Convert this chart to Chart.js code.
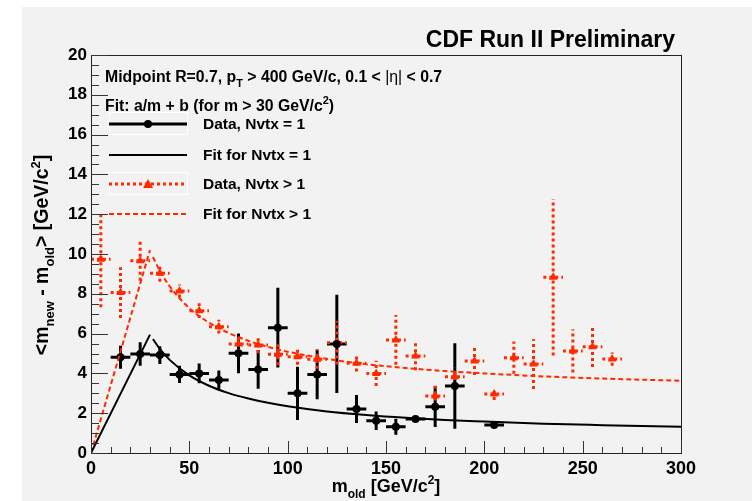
<!DOCTYPE html>
<html>
<head>
<meta charset="utf-8">
<script src="https://cdn.jsdelivr.net/npm/chart.js@4.4.1/dist/chart.umd.min.js"></script>
<style>
  body { margin: 0; background: #fff; }
  canvas { display: block; }
</style>
</head>
<body>
<canvas id="massChart" width="752" height="501"></canvas>
<script>
// === Data ===
const blackX = [15, 25, 35, 45, 55, 65, 75, 85, 95, 105, 115, 125, 135, 145, 155, 165, 175, 185, 205];
const blackY = [4.81, 4.97, 4.92, 3.95, 4.0, 3.67, 5.01, 4.2, 6.3, 3.0, 3.95, 5.48, 2.21, 1.62, 1.32, 1.71, 2.33, 3.37, 1.41];
const blackErr = [0.58, 0.59, 0.45, 0.43, 0.5, 0.47, 1.0, 0.97, 2.0, 1.34, 1.25, 2.47, 0.7, 0.46, 0.4, 0.15, 1.02, 2.15, 0.15];

const redX = [5, 15, 25, 35, 45, 55, 65, 75, 85, 95, 105, 115, 125, 135, 145, 155, 165, 175, 185, 195, 205, 215, 225, 235, 245, 255, 265];
const redY = [9.73, 8.06, 9.66, 9.03, 8.14, 7.15, 6.35, 5.48, 5.43, 4.96, 4.84, 4.71, 5.54, 4.51, 4.0, 5.68, 4.87, 2.86, 3.83, 4.62, 2.96, 4.79, 4.47, 8.83, 5.13, 5.34, 4.72];
const redErr = [2.4, 1.28, 1.0, 0.42, 0.33, 0.37, 0.35, 0.42, 0.42, 0.55, 0.4, 0.48, 1.09, 0.42, 0.63, 1.25, 0.71, 0.52, 0.46, 0.7, 0.3, 0.81, 1.25, 3.93, 1.09, 1.02, 0.33];
const binHalfWidth = 5;

// fit curves (rising part below 30 GeV, a/m + b above)
const riseX = [0, 30];
const blackRiseY = [0, 5.95];
const redRiseY = [0, 10.2];
const tailX = [31.5, 35, 40, 50, 60, 70, 80, 90, 100, 120, 140, 160, 180, 200, 230, 260, 300];
const blackTailY = [5.72, 5.23, 4.68, 3.9, 3.38, 3.01, 2.74, 2.52, 2.35, 2.09, 1.91, 1.77, 1.66, 1.58, 1.47, 1.40, 1.32];
const redTailY = [9.85, 9.16, 8.38, 7.28, 6.55, 6.03, 5.64, 5.33, 5.09, 4.73, 4.46, 4.27, 4.12, 4.0, 3.85, 3.74, 3.63];

const xTicks = [0, 50, 100, 150, 200, 250, 300];
const yTicks = [0, 2, 4, 6, 8, 10, 12, 14, 16, 18, 20];

const RED = '#ff2a00';
const FONT = '"Liberation Sans", Arial, Helvetica, sans-serif';

const toPoints = (xs, ys) => xs.map((x, i) => ({ x: x, y: ys[i] }));

// === Rich text helper (sub / superscripts) ===
function drawRich(ctx, parts, x, y, size, align) {
  const measure = p => {
    const s = p.sub || p.sup ? Math.round(size * 0.68) : size;
    ctx.font = (p.normal ? '' : 'bold ') + s + 'px ' + FONT;
    return ctx.measureText(p.t).width;
  };
  const total = parts.reduce((w, p) => w + measure(p), 0);
  let cx = align === 'center' ? x - total / 2 : align === 'right' ? x - total : x;
  ctx.textAlign = 'left';
  ctx.textBaseline = 'alphabetic';
  parts.forEach(p => {
    const w = measure(p);
    let dy = 0;
    if (p.sub) dy = size * 0.32;
    if (p.sup) dy = -size * 0.42;
    ctx.fillText(p.t, cx, y + dy);
    cx += w;
  });
}

// === Plugin: background, error bars, frame, ticks, texts, legend ===
const rootStyle = {
  id: 'rootStyle',
  beforeDraw(chart) {
    const ctx = chart.ctx;
    ctx.save();
    ctx.fillStyle = '#f2f2f2';
    ctx.fillRect(22, 7, chart.width - 22, chart.height - 7);
    ctx.restore();
  },
  beforeDatasetsDraw(chart) {
    const ctx = chart.ctx;
    const xs = chart.scales.x, ys = chart.scales.y;
    ctx.save();
    // black error bars
    ctx.strokeStyle = '#000';
    ctx.lineWidth = 3;
    blackX.forEach((x, i) => {
      const px = xs.getPixelForValue(x), py = ys.getPixelForValue(blackY[i]);
      ctx.beginPath();
      ctx.moveTo(xs.getPixelForValue(x - binHalfWidth), py);
      ctx.lineTo(xs.getPixelForValue(x + binHalfWidth), py);
      ctx.moveTo(px, ys.getPixelForValue(blackY[i] - blackErr[i]));
      ctx.lineTo(px, ys.getPixelForValue(blackY[i] + blackErr[i]));
      ctx.stroke();
    });
    // red error bars (dotted)
    ctx.strokeStyle = RED;
    ctx.setLineDash([3, 3]);
    redX.forEach((x, i) => {
      const px = xs.getPixelForValue(x), py = ys.getPixelForValue(redY[i]);
      ctx.beginPath();
      ctx.moveTo(xs.getPixelForValue(x - binHalfWidth), py);
      ctx.lineTo(xs.getPixelForValue(x + binHalfWidth), py);
      ctx.moveTo(px, ys.getPixelForValue(redY[i] - redErr[i]));
      ctx.lineTo(px, ys.getPixelForValue(redY[i] + redErr[i]));
      ctx.stroke();
    });
    ctx.restore();
  },
  afterDraw(chart) {
    const ctx = chart.ctx;
    const area = chart.chartArea;
    const xs = chart.scales.x, ys = chart.scales.y;
    ctx.save();

    // frame
    ctx.strokeStyle = '#222';
    ctx.lineWidth = 1;
    ctx.strokeRect(Math.round(area.left) + 0.5, Math.round(area.top) + 0.5,
      Math.round(area.right - area.left), Math.round(area.bottom - area.top));

    // inward ticks
    ctx.strokeStyle = '#333';
    ctx.beginPath();
    for (let v = 0; v <= 300; v += 10) {
      const px = Math.round(xs.getPixelForValue(v)) + 0.5;
      const len = v % 50 === 0 ? 12 : 6;
      ctx.moveTo(px, area.bottom);
      ctx.lineTo(px, area.bottom - len);
    }
    for (let v = 0; v <= 20; v += 0.5) {
      const py = Math.round(ys.getPixelForValue(v)) + 0.5;
      const len = v % 2 === 0 ? 17 : 8;
      ctx.moveTo(area.left, py);
      ctx.lineTo(area.left + len, py);
    }
    ctx.stroke();

    ctx.fillStyle = '#000';
    // title
    ctx.font = 'bold 23px ' + FONT;
    ctx.textAlign = 'right';
    ctx.textBaseline = 'alphabetic';
    ctx.fillText('CDF Run II Preliminary', 675, 47);

    // axis titles
    drawRich(ctx, [{ t: 'm' }, { t: 'old', sub: true }, { t: ' [GeV/c' }, { t: '2', sup: true }, { t: ']' }],
      (area.left + area.right) / 2, 492, 18, 'center');
    ctx.save();
    ctx.translate(48, 255);
    ctx.rotate(-Math.PI / 2);
    drawRich(ctx, [{ t: '<m' }, { t: 'new', sub: true }, { t: ' - m' }, { t: 'old', sub: true },
      { t: '> [GeV/c' }, { t: '2', sup: true }, { t: ']' }], 0, 0, 19.5, 'center');
    ctx.restore();

    // header texts
    drawRich(ctx, [{ t: 'Midpoint R=0.7, p' }, { t: 'T', sub: true }, { t: ' > 400 GeV/c, 0.1 < ' },
      { t: '|\u03b7|', normal: true }, { t: ' < 0.7' }], 105, 82, 15.8, 'left');
    drawRich(ctx, [{ t: 'Fit: a/m + b (for m > 30 GeV/c' }, { t: '2', sup: true }, { t: ')' }], 105, 111, 15.8, 'left');

    // legend
    const lx0 = 109, lx1 = 187, mx = 148, tx = 203;
    const rows = [124, 155, 184, 214];
    ctx.strokeStyle = '#ffffff';
    ctx.lineWidth = 1;
    ctx.strokeRect(lx0 + 0.5, rows[0] - 11.5, lx1 - lx0, 22);
    ctx.strokeRect(lx0 + 0.5, rows[2] - 11.5, lx1 - lx0, 22);

    ctx.strokeStyle = '#000';
    ctx.lineWidth = 3;
    ctx.beginPath(); ctx.moveTo(lx0, rows[0]); ctx.lineTo(lx1, rows[0]); ctx.stroke();
    ctx.beginPath(); ctx.arc(mx, rows[0], 4, 0, Math.PI * 2); ctx.fillStyle = '#000'; ctx.fill();
    ctx.lineWidth = 2;
    ctx.beginPath(); ctx.moveTo(lx0, rows[1]); ctx.lineTo(lx1, rows[1]); ctx.stroke();

    ctx.strokeStyle = RED;
    ctx.lineWidth = 3;
    ctx.setLineDash([3, 3]);
    ctx.beginPath(); ctx.moveTo(lx0, rows[2]); ctx.lineTo(lx1, rows[2]); ctx.stroke();
    ctx.setLineDash([]);
    ctx.fillStyle = RED;
    ctx.beginPath(); ctx.moveTo(mx, rows[2] - 5); ctx.lineTo(mx + 5, rows[2] + 4); ctx.lineTo(mx - 5, rows[2] + 4); ctx.closePath(); ctx.fill();
    ctx.lineWidth = 2;
    ctx.setLineDash([5, 3]);
    ctx.beginPath(); ctx.moveTo(lx0, rows[3]); ctx.lineTo(lx1, rows[3]); ctx.stroke();
    ctx.setLineDash([]);

    ctx.fillStyle = '#000';
    ctx.font = 'bold 15.5px ' + FONT;
    ctx.textAlign = 'left';
    ctx.textBaseline = 'middle';
    ctx.fillText('Data, Nvtx = 1', tx, rows[0] + 1);
    ctx.fillText('Fit for Nvtx = 1', tx, rows[1] + 1);
    ctx.fillText('Data, Nvtx > 1', tx, rows[2] + 1);
    ctx.fillText('Fit for Nvtx > 1', tx, rows[3] + 1);

    ctx.restore();
  }
};

// === Chart ===
const fitLine = (data, color, dash) => ({
  type: 'line',
  data: data,
  borderColor: color,
  borderWidth: 2,
  borderDash: dash,
  pointRadius: 0,
  showLine: true,
  fill: false,
  cubicInterpolationMode: 'monotone'
});

new Chart(document.getElementById('massChart'), {
  type: 'scatter',
  data: {
    datasets: [
      fitLine(toPoints(riseX, blackRiseY), '#000', []),
      fitLine(toPoints(tailX, blackTailY), '#000', []),
      fitLine(toPoints(riseX, redRiseY), RED, [5, 3]),
      fitLine(toPoints(tailX, redTailY), RED, [5, 3]),
      {
        label: 'Data, Nvtx = 1',
        data: toPoints(blackX, blackY),
        pointStyle: 'circle',
        pointRadius: 4,
        backgroundColor: '#000',
        borderColor: '#000',
        borderWidth: 0
      },
      {
        label: 'Data, Nvtx > 1',
        data: toPoints(redX, redY),
        pointStyle: 'triangle',
        pointRadius: 5,
        backgroundColor: RED,
        borderColor: RED,
        borderWidth: 0
      }
    ]
  },
  options: {
    responsive: false,
    animation: false,
    layout: { padding: { top: 55, right: 71, left: 0, bottom: 0 } },
    plugins: { legend: { display: false }, tooltip: { enabled: false } },
    scales: {
      x: {
        type: 'linear',
        min: 0,
        max: 300,
        afterFit: s => { s.height = 48; },
        afterBuildTicks: s => { s.ticks = xTicks.map(v => ({ value: v })); },
        grid: { display: false, drawTicks: false },
        border: { display: false },
        ticks: { color: '#000', padding: 5, font: { family: FONT, size: 18, weight: 'bold' }, maxRotation: 0 }
      },
      y: {
        type: 'linear',
        min: 0,
        max: 20,
        afterFit: s => { s.width = 91; },
        afterBuildTicks: s => { s.ticks = yTicks.map(v => ({ value: v })); },
        grid: { display: false, drawTicks: false },
        border: { display: false },
        ticks: { color: '#000', padding: 4, font: { family: FONT, size: 17, weight: 'bold' } }
      }
    }
  },
  plugins: [rootStyle]
});
</script>
</body>
</html>
